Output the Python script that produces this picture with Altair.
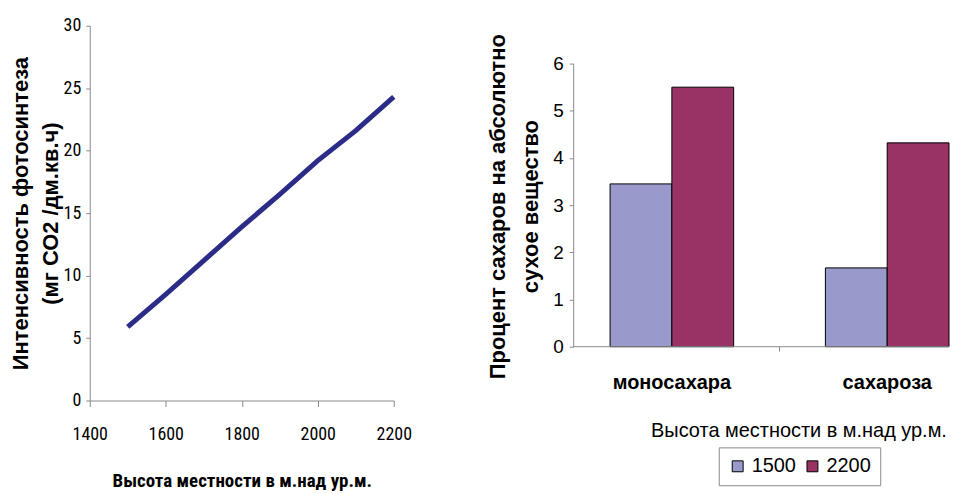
import altair as alt
import pandas as pd

# Left chart: photosynthesis intensity vs altitude
alt_x = [1500, 1600, 1700, 1800, 1900, 2000, 2100, 2200]
photo_y = [5.9, 8.5, 11.2, 13.9, 16.5, 19.2, 21.6, 24.3]

# Right chart: sugar percentage
categories = ["моносахара", "сахароза"]
series_names = ["1500", "2200"]
vals_1500 = [3.45, 1.67]
vals_2200 = [5.5, 4.32]

NARROW = "Liberation Sans Narrow, Arial Narrow, Roboto Condensed, Liberation Sans, sans-serif"
SANS = "Liberation Sans, Arial, sans-serif"
AXIS_GRAY = "#8a8a8a"

line_df = pd.DataFrame({"h": alt_x, "v": photo_y})

left = alt.Chart(line_df).mark_line(color="#2B2B88", strokeWidth=5).encode(
    x=alt.X("h:Q",
            scale=alt.Scale(domain=[1400, 2200], nice=False, zero=False),
            axis=alt.Axis(values=[1400, 1600, 1800, 2000, 2200], grid=False, format="d",
                          title="Высота местности в м.над ур.м.",
                          titleFont=NARROW, titleFontSize=19, titleFontWeight="bold",
                          titleColor="black", titlePadding=28,
                          labelFont=NARROW, labelFontSize=18, labelColor="black",
                          labelPadding=19, tickSize=6, domainColor=AXIS_GRAY,
                          tickColor=AXIS_GRAY, labelFlush=False)),
    y=alt.Y("v:Q",
            scale=alt.Scale(domain=[0, 30], nice=False),
            axis=alt.Axis(values=[0, 5, 10, 15, 20, 25, 30], grid=False, format="d",
                          title=["Интенсивность фотосинтеза", "(мг СО2 /дм.кв.ч)"],
                          titleFont=SANS, titleFontSize=22, titleFontWeight="bold",
                          titleColor="black", titlePadding=1, titleLineHeight=30,
                          labelFont=NARROW, labelFontSize=18, labelColor="black",
                          labelPadding=5, tickSize=4, domainColor=AXIS_GRAY,
                          tickColor=AXIS_GRAY)),
).properties(width=305, height=376)

rows = []
for i, c in enumerate(categories):
    rows.append({"cat": c, "year": series_names[0], "val": vals_1500[i]})
    rows.append({"cat": c, "year": series_names[1], "val": vals_2200[i]})
bar_df = pd.DataFrame(rows)

RW = 377
RH = 322

ybar = alt.Y("val:Q",
             scale=alt.Scale(domain=[0, 6], nice=False, range=[RH, 38]),
             axis=alt.Axis(values=[0, 1, 2, 3, 4, 5, 6], grid=False, format="d",
                           title=["Процент сахаров  на абсолютно", "сухое вещество"],
                           titleFont=SANS, titleFontSize=22, titleFontWeight="bold",
                           titleColor="black", titlePadding=10, titleLineHeight=33,
                           titleY=181,
                           labelFont=SANS, labelFontSize=19, labelColor="black",
                           labelPadding=6, tickSize=4, domainColor=AXIS_GRAY,
                           tickColor=AXIS_GRAY))

bars = alt.Chart(bar_df).mark_bar(stroke="black", strokeWidth=1).encode(
    x=alt.X("cat:N", sort=categories,
            scale=alt.Scale(paddingInner=0.426, paddingOuter=0.0856, align=1),
            axis=alt.Axis(domain=False, ticks=False, labelAngle=0,
                          title="Высота местности в  м.над ур.м.",
                          titleX=226,
                          titleFont=SANS, titleFontSize=20, titleFontWeight="normal",
                          titleColor="black", titlePadding=28,
                          labelFont=SANS, labelFontSize=20, labelFontWeight="bold",
                          labelColor="black", labelPadding=26)),
    xOffset=alt.XOffset("year:N", sort=series_names,
                        scale=alt.Scale(paddingInner=0, paddingOuter=0)),
    y=ybar,
    color=alt.Color("year:N", sort=series_names,
                    scale=alt.Scale(domain=series_names, range=["#9999CC", "#993366"]),
                    legend=alt.Legend(title=None, orient="none", legendX=146, legendY=423,
                                      direction="horizontal", strokeColor=AXIS_GRAY,
                                      padding=9, symbolType="square", symbolSize=120,
                                      symbolStrokeColor="black", symbolStrokeWidth=1,
                                      labelFont=SANS, labelFontSize=20, labelColor="black",
                                      labelOffset=4, columnPadding=6)),
)

baseline = alt.Chart(pd.DataFrame({"z": [0]})).mark_rule(color=AXIS_GRAY, strokeWidth=1).encode(
    y=alt.Y("z:Q", scale=alt.Scale(domain=[0, 6], nice=False, range=[RH, 38])),
    x=alt.value(0), x2=alt.value(RW))

midtick = alt.Chart(pd.DataFrame({"z": [0]})).mark_rule(color=AXIS_GRAY, strokeWidth=1).encode(
    x=alt.value(207), y=alt.value(RH), y2=alt.value(RH + 5))

right = alt.layer(bars, baseline, midtick).properties(width=RW, height=RH)

chart = alt.hconcat(left, right, spacing=180, bounds="flush").properties(
    padding={"left": 1, "top": 8, "right": 0, "bottom": 0}
).configure_view(stroke=None).resolve_scale(color="independent")

chart.save("out.html", embed_options={"renderer": "svg", "actions": False})
